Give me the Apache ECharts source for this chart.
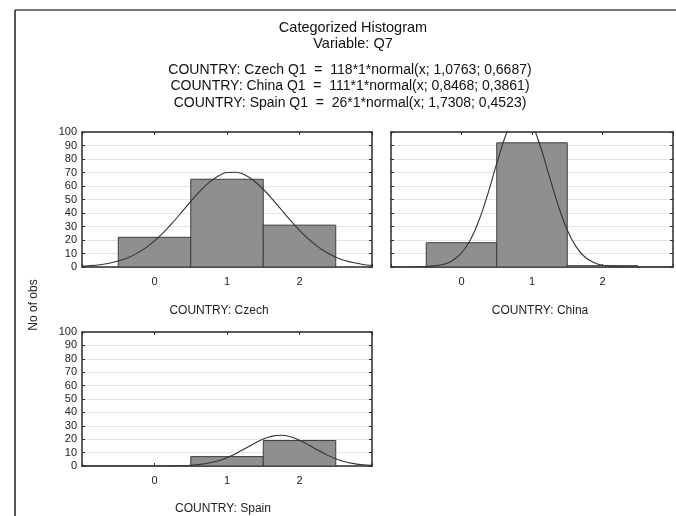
<!DOCTYPE html>
<html>
<head>
<meta charset="utf-8">
<script src="https://cdn.jsdelivr.net/npm/echarts@6/dist/echarts.min.js"></script>
<style>
  html, body { margin: 0; padding: 0; background: #fff; }
  #main { width: 676px; height: 516px; }
</style>
</head>
<body>
<div id="main"></div>
<script>
// histogram bins (class midpoints)
const bins = [0, 1, 2];
// counts per country
const czechCounts = [22, 65, 31];
const chinaCounts = [18, 92, 1];
const spainCounts = [0, 7, 19];
// fitted normal curves
const curveX = [-1, -0.875, -0.75, -0.625, -0.5, -0.375, -0.25, -0.125, 0, 0.125, 0.25, 0.375, 0.5, 0.625, 0.75, 0.875,
  1, 1.125, 1.25, 1.375, 1.5, 1.625, 1.75, 1.875, 2, 2.125, 2.25, 2.375, 2.5, 2.625, 2.75, 2.875, 3];
const czechCurve = [0.6, 1.0, 1.7, 2.8, 4.4, 6.7, 9.9, 14.0, 19.3, 25.6, 32.8, 40.6, 48.6, 56.1, 62.5, 67.3,
  70.0, 70.2, 68.1, 63.7, 57.6, 50.3, 42.4, 34.5, 27.1, 20.6, 15.1, 10.7, 7.3, 4.8, 3.1, 1.9, 1.1];
const chinaCurve = [0, 0, 0, 0.1, 0.3, 0.8, 2.0, 4.8, 10.4, 20.0, 34.8, 54.4, 76.7, 97.2, 111.1, 114.4,
  106.0, 88.5, 66.5, 45.0, 27.4, 15.1, 7.4, 3.3, 1.3, 0.5, 0.2, 0, 0, 0, 0, 0, 0];
const spainCurve = [0, 0, 0, 0, 0, 0, 0, 0, 0, 0, 0.1, 0.3, 0.6, 1.2, 2.2, 3.8,
  6.2, 9.4, 13.0, 16.8, 20.1, 22.3, 22.9, 21.8, 19.2, 15.7, 11.9, 8.3, 5.4, 3.2, 1.8, 0.9, 0.5];
// titles
const titleLines = ["Categorized Histogram", "Variable: Q7"];
const formulaLines = [
  "COUNTRY: Czech Q1  =  118*1*normal(x; 1,0763; 0,6687)",
  "COUNTRY: China Q1  =  111*1*normal(x; 0,8468; 0,3861)",
  "COUNTRY: Spain Q1  =  26*1*normal(x; 1,7308; 0,4523)",
];
const panelNames = ["COUNTRY: Czech", "COUNTRY: China", "COUNTRY: Spain"];

const FONT = "Liberation Sans, Arial, sans-serif";
const AXIS_COLOR = "#2b2b2b";

const grids = [
  { left: 82, top: 132, width: 290, height: 135 },
  { left: 391, top: 132, width: 292, height: 135 },
  { left: 82, top: 332, width: 290, height: 134 },
];

function xAxes(i) {
  //底部x轴
  let bottom = {
    type: "value", gridIndex: i, min: -1, max: 3, interval: 1,
    axisLine: { show: true, onZero: false, lineStyle: { color: AXIS_COLOR, width: 1.5 } },
    axisTick: { show: true, inside: true, length: 3, lineStyle: { color: AXIS_COLOR } },
    axisLabel: {
      show: true, margin: 9, color: "#222", fontSize: 11, fontFamily: FONT,
      formatter: (v) => (v < 0 || v > 2 ? "" : String(v)),
    },
    splitLine: { show: false },
  };
  //顶部x轴（只画刻度）
  let top = {
    type: "value", gridIndex: i, position: "top", min: -1, max: 3, interval: 1,
    axisLine: { show: true, onZero: false, lineStyle: { color: AXIS_COLOR, width: 1.5 } },
    axisTick: { show: true, inside: true, length: 3, lineStyle: { color: AXIS_COLOR } },
    axisLabel: { show: false },
    splitLine: { show: false },
  };
  return [bottom, top];
}

function yAxes(i, showLabels) {
  let left = {
    type: "value", gridIndex: i, min: 0, max: 100, interval: 10,
    axisLine: { show: true, onZero: false, lineStyle: { color: AXIS_COLOR, width: 1.5 } },
    axisTick: { show: true, inside: true, length: 3, lineStyle: { color: AXIS_COLOR } },
    axisLabel: { show: showLabels, margin: 5, color: "#222", fontSize: 11, fontFamily: FONT },
    splitLine: { show: true, lineStyle: { color: "#e4e4e4", width: 1 } },
  };
  let right = {
    type: "value", gridIndex: i, position: "right", min: 0, max: 100, interval: 10,
    axisLine: { show: true, onZero: false, lineStyle: { color: AXIS_COLOR, width: 1.5 } },
    axisTick: { show: true, inside: true, length: 3, lineStyle: { color: AXIS_COLOR } },
    axisLabel: { show: false },
    splitLine: { show: false },
  };
  return [left, right];
}

//直方图柱子
function renderBar(params, api) {
  let x = api.value(0);
  let y = api.value(1);
  if (!y) {
    return null;
  }
  let p0 = api.coord([x - 0.5, y]);
  let p1 = api.coord([x + 0.5, 0]);
  return {
    type: "rect",
    shape: { x: p0[0], y: p0[1], width: p1[0] - p0[0], height: p1[1] - p0[1] },
    style: { fill: "#8f8f8f", stroke: "#3c3c3c", lineWidth: 1 },
  };
}

const countsList = [czechCounts, chinaCounts, spainCounts];
const curveList = [czechCurve, chinaCurve, spainCurve];

let xAxisList = [];
let yAxisList = [];
let series = [];
for (let i = 0; i < 3; i++) {
  xAxisList = xAxisList.concat(xAxes(i));
  yAxisList = yAxisList.concat(yAxes(i, i !== 1));
  series.push({
    type: "custom",
    xAxisIndex: i * 2,
    yAxisIndex: i * 2,
    renderItem: renderBar,
    data: bins.map((b, k) => [b, countsList[i][k]]),
    z: 2,
    silent: true,
  });
  series.push({
    type: "line",
    xAxisIndex: i * 2,
    yAxisIndex: i * 2,
    data: curveX.map((x, k) => [x, curveList[i][k]]),
    smooth: 0.3,
    symbol: "none",
    clip: true,
    lineStyle: { color: "#333", width: 1.1 },
    z: 3,
    silent: true,
  });
}

let graphic = [
  //外框
  { type: "line", shape: { x1: 15, y1: 10, x2: 676, y2: 10 }, style: { stroke: "#777", lineWidth: 2 } },
  { type: "line", shape: { x1: 15, y1: 10, x2: 15, y2: 516 }, style: { stroke: "#222", lineWidth: 1.5 } },
  {
    type: "text", x: 34, y: 305, rotation: Math.PI / 2,
    style: { text: "No of obs", fontSize: 12, fontFamily: FONT, fill: "#222", align: "center", verticalAlign: "middle" },
  },
];
titleLines.forEach((t, k) => {
  graphic.push({
    type: "text", x: 353, y: 28 + k * 15.5,
    style: { text: t, fontSize: 14.5, fontFamily: FONT, fill: "#111", align: "center", verticalAlign: "middle" },
  });
});
formulaLines.forEach((t, k) => {
  graphic.push({
    type: "text", x: 350, y: 70 + k * 16.5,
    style: { text: t, fontSize: 14, fontFamily: FONT, fill: "#111", align: "center", verticalAlign: "middle" },
  });
});
const labelPos = [[219, 311], [540, 311], [223, 509]];
panelNames.forEach((t, k) => {
  graphic.push({
    type: "text", x: labelPos[k][0], y: labelPos[k][1],
    style: { text: t, fontSize: 12, fontFamily: FONT, fill: "#222", align: "center", verticalAlign: "middle" },
  });
});

const chart = echarts.init(document.getElementById("main"), null, { renderer: "canvas" });
chart.setOption({
  backgroundColor: "#fff",
  animation: false,
  grid: grids,
  xAxis: xAxisList,
  yAxis: yAxisList,
  series: series,
  graphic: graphic,
});
</script>
</body>
</html>
